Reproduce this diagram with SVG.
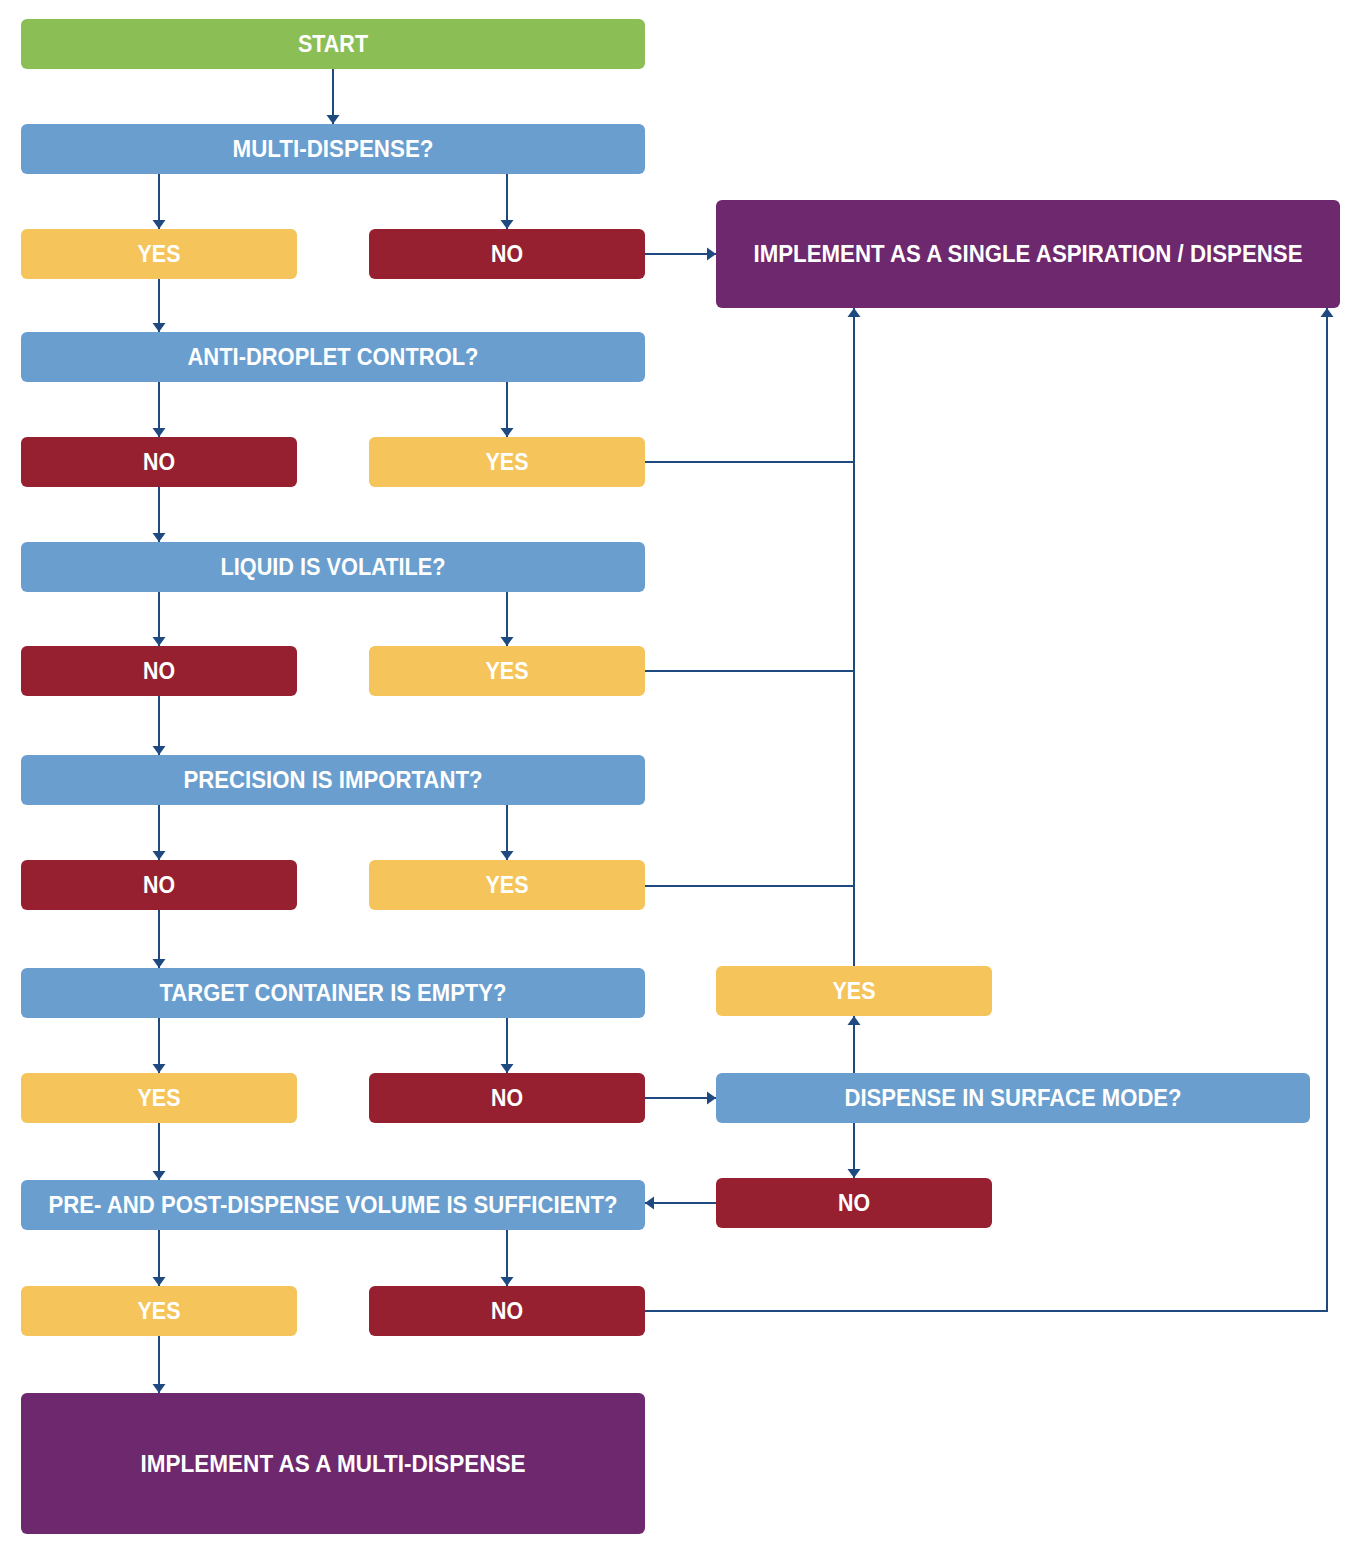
<svg xmlns="http://www.w3.org/2000/svg" width="1364" height="1558" viewBox="0 0 1364 1558">
<defs>
<style>
.box{stroke:none}
.g{fill:#8BBF56}.b{fill:#699ECE}.y{fill:#F5C45B}.r{fill:#961F30}.p{fill:#6E286D}
text{font-family:"Liberation Sans",Arial,sans-serif;font-weight:bold;font-size:23px;fill:#ffffff;text-anchor:middle}
.c{fill:none;stroke:#1F4A80;stroke-width:2}
</style>
<marker id="ah" markerWidth="10" markerHeight="14" refX="9" refY="7" orient="auto" markerUnits="userSpaceOnUse">
<path d="M0,0.5 L9,7 L0,13.5 Z" fill="#1F4A80"/>
</marker>
</defs>
<rect width="1364" height="1558" fill="#ffffff"/>

<g id="connectors">
<path class="c" d="M333,69 V124" marker-end="url(#ah)"/>
<path class="c" d="M159,174 V229" marker-end="url(#ah)"/>
<path class="c" d="M507,174 V229" marker-end="url(#ah)"/>
<path class="c" d="M645,254 H716" marker-end="url(#ah)"/>
<path class="c" d="M159,279 V332" marker-end="url(#ah)"/>
<path class="c" d="M159,382 V437" marker-end="url(#ah)"/>
<path class="c" d="M507,382 V437" marker-end="url(#ah)"/>
<path class="c" d="M645,462 H854"/>
<path class="c" d="M159,487 V542" marker-end="url(#ah)"/>
<path class="c" d="M159,592 V646" marker-end="url(#ah)"/>
<path class="c" d="M507,592 V646" marker-end="url(#ah)"/>
<path class="c" d="M645,671 H854"/>
<path class="c" d="M159,696 V755" marker-end="url(#ah)"/>
<path class="c" d="M159,805 V860" marker-end="url(#ah)"/>
<path class="c" d="M507,805 V860" marker-end="url(#ah)"/>
<path class="c" d="M645,886 H854"/>
<path class="c" d="M854,966 V308" marker-end="url(#ah)"/>
<path class="c" d="M159,910 V968" marker-end="url(#ah)"/>
<path class="c" d="M159,1018 V1073" marker-end="url(#ah)"/>
<path class="c" d="M507,1018 V1073" marker-end="url(#ah)"/>
<path class="c" d="M645,1098 H716" marker-end="url(#ah)"/>
<path class="c" d="M854,1073 V1016" marker-end="url(#ah)"/>
<path class="c" d="M854,1123 V1178" marker-end="url(#ah)"/>
<path class="c" d="M716,1203 H645" marker-end="url(#ah)"/>
<path class="c" d="M159,1123 V1180" marker-end="url(#ah)"/>
<path class="c" d="M159,1230 V1286" marker-end="url(#ah)"/>
<path class="c" d="M507,1230 V1286" marker-end="url(#ah)"/>
<path class="c" d="M645,1311 H1327 V308" marker-end="url(#ah)"/>
<path class="c" d="M159,1336 V1393" marker-end="url(#ah)"/>
</g>

<g id="start"><rect class="box g" x="21" y="19" width="624" height="50" rx="6"/><text x="333" y="52" textLength="70" lengthAdjust="spacingAndGlyphs">START</text></g>
<g id="q-multi"><rect class="box b" x="21" y="124" width="624" height="50" rx="6"/><text x="333" y="157" textLength="201" lengthAdjust="spacingAndGlyphs">MULTI-DISPENSE?</text></g>
<g id="multi-yes"><rect class="box y" x="21" y="229" width="276" height="50" rx="6"/><text x="159" y="262" textLength="43" lengthAdjust="spacingAndGlyphs">YES</text></g>
<g id="multi-no"><rect class="box r" x="369" y="229" width="276" height="50" rx="6"/><text x="507" y="262" textLength="32" lengthAdjust="spacingAndGlyphs">NO</text></g>
<g id="single"><rect class="box p" x="716" y="200" width="624" height="108" rx="6"/><text x="1028" y="262" textLength="549" lengthAdjust="spacingAndGlyphs">IMPLEMENT AS A SINGLE ASPIRATION / DISPENSE</text></g>

<g id="q-anti"><rect class="box b" x="21" y="332" width="624" height="50" rx="6"/><text x="333" y="365" textLength="291" lengthAdjust="spacingAndGlyphs">ANTI-DROPLET CONTROL?</text></g>
<g id="anti-no"><rect class="box r" x="21" y="437" width="276" height="50" rx="6"/><text x="159" y="470" textLength="32" lengthAdjust="spacingAndGlyphs">NO</text></g>
<g id="anti-yes"><rect class="box y" x="369" y="437" width="276" height="50" rx="6"/><text x="507" y="470" textLength="43" lengthAdjust="spacingAndGlyphs">YES</text></g>

<g id="q-volatile"><rect class="box b" x="21" y="542" width="624" height="50" rx="6"/><text x="333" y="575" textLength="225" lengthAdjust="spacingAndGlyphs">LIQUID IS VOLATILE?</text></g>
<g id="volatile-no"><rect class="box r" x="21" y="646" width="276" height="50" rx="6"/><text x="159" y="679" textLength="32" lengthAdjust="spacingAndGlyphs">NO</text></g>
<g id="volatile-yes"><rect class="box y" x="369" y="646" width="276" height="50" rx="6"/><text x="507" y="679" textLength="43" lengthAdjust="spacingAndGlyphs">YES</text></g>

<g id="q-precision"><rect class="box b" x="21" y="755" width="624" height="50" rx="6"/><text x="333" y="788" textLength="299" lengthAdjust="spacingAndGlyphs">PRECISION IS IMPORTANT?</text></g>
<g id="precision-no"><rect class="box r" x="21" y="860" width="276" height="50" rx="6"/><text x="159" y="893" textLength="32" lengthAdjust="spacingAndGlyphs">NO</text></g>
<g id="precision-yes"><rect class="box y" x="369" y="860" width="276" height="50" rx="6"/><text x="507" y="893" textLength="43" lengthAdjust="spacingAndGlyphs">YES</text></g>

<g id="q-target"><rect class="box b" x="21" y="968" width="624" height="50" rx="6"/><text x="333" y="1001" textLength="347" lengthAdjust="spacingAndGlyphs">TARGET CONTAINER IS EMPTY?</text></g>
<g id="target-yes"><rect class="box y" x="21" y="1073" width="276" height="50" rx="6"/><text x="159" y="1106" textLength="43" lengthAdjust="spacingAndGlyphs">YES</text></g>
<g id="target-no"><rect class="box r" x="369" y="1073" width="276" height="50" rx="6"/><text x="507" y="1106" textLength="32" lengthAdjust="spacingAndGlyphs">NO</text></g>

<g id="surface-yes"><rect class="box y" x="716" y="966" width="276" height="50" rx="6"/><text x="854" y="999" textLength="43" lengthAdjust="spacingAndGlyphs">YES</text></g>
<g id="q-surface"><rect class="box b" x="716" y="1073" width="594" height="50" rx="6"/><text x="1013" y="1106" textLength="337" lengthAdjust="spacingAndGlyphs">DISPENSE IN SURFACE MODE?</text></g>
<g id="surface-no"><rect class="box r" x="716" y="1178" width="276" height="50" rx="6"/><text x="854" y="1211" textLength="32" lengthAdjust="spacingAndGlyphs">NO</text></g>

<g id="q-volume"><rect class="box b" x="21" y="1180" width="624" height="50" rx="6"/><text x="333" y="1213" textLength="569" lengthAdjust="spacingAndGlyphs">PRE- AND POST-DISPENSE VOLUME IS SUFFICIENT?</text></g>
<g id="volume-yes"><rect class="box y" x="21" y="1286" width="276" height="50" rx="6"/><text x="159" y="1319" textLength="43" lengthAdjust="spacingAndGlyphs">YES</text></g>
<g id="volume-no"><rect class="box r" x="369" y="1286" width="276" height="50" rx="6"/><text x="507" y="1319" textLength="32" lengthAdjust="spacingAndGlyphs">NO</text></g>

<g id="multi-dispense"><rect class="box p" x="21" y="1393" width="624" height="141" rx="6"/><text x="333" y="1472" textLength="385" lengthAdjust="spacingAndGlyphs">IMPLEMENT AS A MULTI-DISPENSE</text></g>
</svg>
